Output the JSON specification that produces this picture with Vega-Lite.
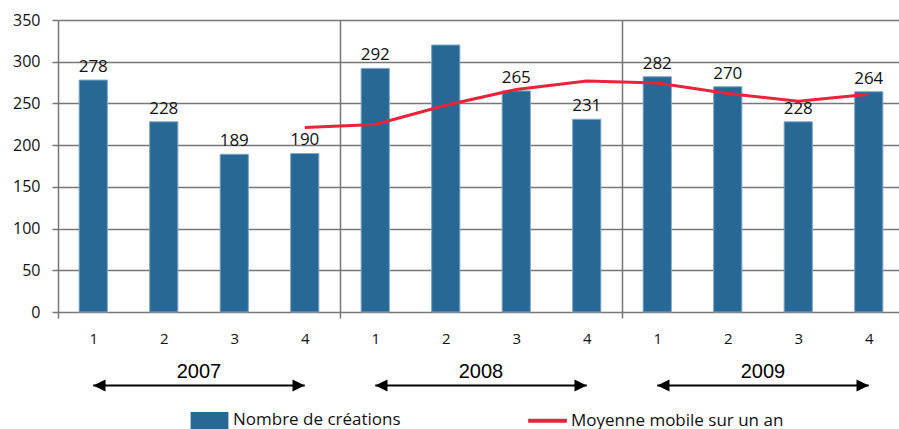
{
  "$schema": "https://vega.github.io/schema/vega-lite/v6.json",
  "padding": {"left": 12, "top": 12, "right": 0, "bottom": 0},
  "bounds": "flush",
  "spacing": 63.5,
  "config": {"view": {"stroke": null}, "font": "Open Sans"},
  "datasets": {
    "trimestres": [
      {"period": "2007-1", "n": 278, "moyenne": null},
      {"period": "2007-2", "n": 228, "moyenne": null},
      {"period": "2007-3", "n": 189, "moyenne": null},
      {"period": "2007-4", "n": 190, "moyenne": 221.25},
      {"period": "2008-1", "n": 292, "moyenne": 224.75},
      {"period": "2008-2", "n": 320, "moyenne": 247.75},
      {"period": "2008-3", "n": 265, "moyenne": 266.75},
      {"period": "2008-4", "n": 231, "moyenne": 277},
      {"period": "2009-1", "n": 282, "moyenne": 274.5},
      {"period": "2009-2", "n": 270, "moyenne": 262},
      {"period": "2009-3", "n": 228, "moyenne": 252.75},
      {"period": "2009-4", "n": 264, "moyenne": 261}
    ],
    "annees": [
      {"annee": "2007", "debut": "2007-1", "fin": "2007-4"},
      {"annee": "2008", "debut": "2008-1", "fin": "2008-4"},
      {"annee": "2009", "debut": "2009-1", "fin": "2009-4"}
    ]
  },
  "vconcat": [
    {
      "width": 841,
      "height": 292,
      "data": {"name": "trimestres"},
      "encoding": {
        "x": {
          "field": "period",
          "type": "nominal",
          "sort": null,
          "scale": {
            "domain": ["2007-1","2007-2","2007-3","2007-4","2008-1","2008-2","2008-3","2008-4","2009-1","2009-2","2009-3","2009-4"],
            "range": [0, 846],
            "paddingInner": 0.6,
            "paddingOuter": 0.3
          },
          "axis": {
            "title": null,
            "domain": false,
            "bandPosition": 0.5,
            "tickOffset": -35.25,
            "labelOffset": 35.25,
            "grid": true,
            "gridColor": "#777777",
            "gridWidth": 1.5,
            "gridOpacity": {"condition": {"test": "slice(datum.value, 5) === '1'", "value": 1}, "value": 0},
            "ticks": true,
            "tickSize": 6,
            "tickColor": "#777777",
            "tickWidth": 1.5,
            "tickOpacity": {"condition": {"test": "slice(datum.value, 5) === '1'", "value": 1}, "value": 0},
            "labelExpr": "slice(datum.value, 5)",
            "labelAngle": 0,
            "labelFont": "Open Sans",
            "labelFontSize": 15,
            "labelColor": "#111111",
            "labelPadding": 13
          }
        }
      },
      "layer": [
        {
          "mark": {"type": "bar", "stroke": "#7fa6c6", "strokeWidth": 1},
          "encoding": {
            "y": {
              "field": "n",
              "type": "quantitative",
              "scale": {"domain": [0, 350], "nice": false},
              "axis": {
                "title": null,
                "values": [0, 50, 100, 150, 200, 250, 300, 350],
                "grid": true,
                "gridColor": "#777777",
                "gridWidth": 1.5,
                "domain": false,
                "tickColor": "#777777",
                "tickSize": 6,
                "tickWidth": 1.5,
                "labelFont": "Open Sans",
                "labelFontSize": 16,
                "labelColor": "#111111",
                "labelPadding": 12
              }
            },
            "color": {
              "datum": "Nombre de créations",
              "scale": {
                "domain": ["Nombre de créations", "Moyenne mobile sur un an"],
                "range": ["#286895", "#e8233a"]
              },
              "legend": {
                "orient": "none",
                "legendX": 143,
                "legendY": 391.5,
                "direction": "horizontal",
                "columns": 2,
                "title": null,
                "padding": 0,
                "columnPadding": 119,
                "labelOffset": 15,
                "labelLimit": 400,
                "labelFont": "Open Sans",
                "labelFontSize": 17,
                "labelColor": "#111111",
                "symbolSize": 324,
                "symbolType": {"expr": "datum.value === 'Nombre de créations' ? 'M-2.1,-0.95H2.1V0.95H-2.1Z' : 'M-2.15,0H2.15'"},
                "symbolStrokeWidth": 4,
                "encode": {
                  "symbols": {
                    "update": {
                      "shape": {"signal": "datum.value === 'Nombre de créations' ? 'M-2.1,-0.95H2.1V0.95H-2.1Z' : 'M-2.15,0H2.15'"},
                      "fill": {"signal": "datum.value === 'Nombre de créations' ? '#286895' : 'transparent'"},
                      "stroke": {"signal": "datum.value === 'Nombre de créations' ? 'transparent' : '#e8233a'"},
                      "strokeWidth": {"signal": "datum.value === 'Nombre de créations' ? 0 : 4"},
                      "opacity": {"value": 1}
                    }
                  }
                }
              }
            }
          }
        },
        {
          "transform": [{"filter": "datum.period !== '2008-2'"}],
          "mark": {"type": "text", "dy": -13, "baseline": "middle", "font": "Open Sans", "fontSize": 17, "color": "#111111"},
          "encoding": {
            "y": {"field": "n", "type": "quantitative"},
            "text": {"field": "n", "type": "quantitative"}
          }
        },
        {
          "transform": [{"filter": "isValid(datum.moyenne)"}],
          "mark": {"type": "line", "strokeWidth": 3},
          "encoding": {
            "y": {"field": "moyenne", "type": "quantitative"},
            "color": {
              "datum": "Moyenne mobile sur un an",
              "legend": {
                "orient": "none",
                "legendX": 143,
                "legendY": 391.5,
                "direction": "horizontal",
                "columns": 2,
                "title": null,
                "padding": 0,
                "columnPadding": 119,
                "labelOffset": 15,
                "labelLimit": 400,
                "labelFont": "Open Sans",
                "labelFontSize": 17,
                "labelColor": "#111111",
                "symbolSize": 324,
                "symbolType": {"expr": "datum.value === 'Nombre de créations' ? 'M-2.1,-0.95H2.1V0.95H-2.1Z' : 'M-2.15,0H2.15'"},
                "symbolStrokeWidth": 4,
                "encode": {
                  "symbols": {
                    "update": {
                      "shape": {"signal": "datum.value === 'Nombre de créations' ? 'M-2.1,-0.95H2.1V0.95H-2.1Z' : 'M-2.15,0H2.15'"},
                      "fill": {"signal": "datum.value === 'Nombre de créations' ? '#286895' : 'transparent'"},
                      "stroke": {"signal": "datum.value === 'Nombre de créations' ? 'transparent' : '#e8233a'"},
                      "strokeWidth": {"signal": "datum.value === 'Nombre de créations' ? 0 : 4"},
                      "opacity": {"value": 1}
                    }
                  }
                }
              }
            }
          }
        }
      ]
    },
    {
      "width": 841,
      "height": 20,
      "data": {"name": "annees"},
      "layer": [
        {
          "mark": {"type": "rule", "color": "#000000", "strokeWidth": 2},
          "encoding": {
            "x": {"field": "debut", "type": "nominal", "sort": null, "axis": null,
              "scale": {"domain": ["2007-1","2007-2","2007-3","2007-4","2008-1","2008-2","2008-3","2008-4","2009-1","2009-2","2009-3","2009-4"], "range": [0, 846], "paddingInner": 0.6, "paddingOuter": 0.3}},
            "x2": {"field": "fin"}
          }
        },
        {
          "mark": {"type": "point", "shape": "M0,0L2,-1L2,1Z", "filled": true, "color": "#000000", "opacity": 1, "size": 150},
          "encoding": {
            "x": {"field": "debut", "type": "nominal", "sort": null, "axis": null,
              "scale": {"domain": ["2007-1","2007-2","2007-3","2007-4","2008-1","2008-2","2008-3","2008-4","2009-1","2009-2","2009-3","2009-4"], "range": [0, 846], "paddingInner": 0.6, "paddingOuter": 0.3}}
          }
        },
        {
          "mark": {"type": "point", "shape": "M0,0L-2,-1L-2,1Z", "filled": true, "color": "#000000", "opacity": 1, "size": 150},
          "encoding": {
            "x": {"field": "fin", "type": "nominal", "sort": null, "axis": null,
              "scale": {"domain": ["2007-1","2007-2","2007-3","2007-4","2008-1","2008-2","2008-3","2008-4","2009-1","2009-2","2009-3","2009-4"], "range": [0, 846], "paddingInner": 0.6, "paddingOuter": 0.3}}
          }
        },
        {
          "mark": {"type": "text", "font": "Liberation Sans", "fontSize": 20, "baseline": "alphabetic", "dy": -8, "color": "#000000"},
          "encoding": {
            "x": {"field": "annee", "type": "nominal", "sort": null, "axis": null,
              "scale": {"domain": ["2007", "2008", "2009"], "range": [0, 846], "paddingInner": 0, "paddingOuter": 0}},
            "text": {"field": "annee", "type": "nominal"}
          }
        }
      ],
      "resolve": {"scale": {"x": "independent"}}
    }
  ]
}
